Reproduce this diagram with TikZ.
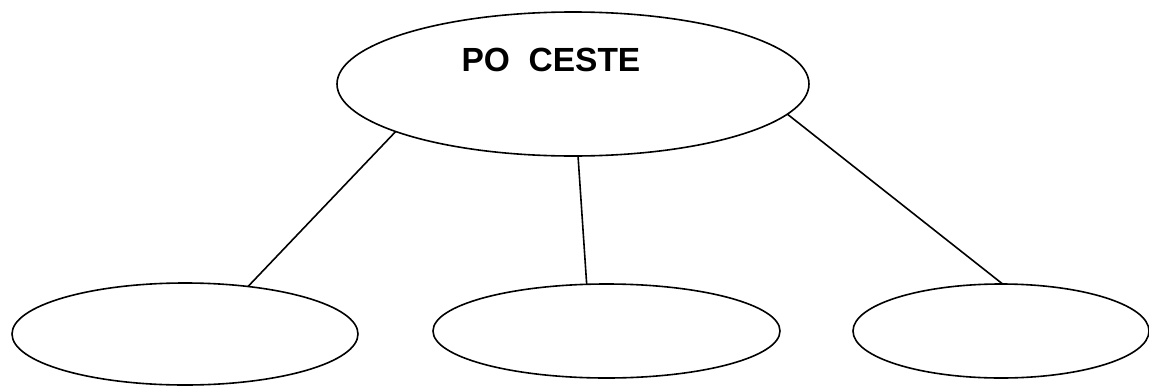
\documentclass[tikz,border=0pt]{standalone}
\usepackage{fontspec}
\setmainfont{Liberation Sans}
\usetikzlibrary{shapes.geometric}
\begin{document}
\begin{tikzpicture}[x=1pt,y=-1pt,
  oval/.style={draw, ellipse, line width=1.6pt, inner sep=0pt, outer sep=0pt},
  link/.style={line width=1.6pt}]
\useasboundingbox (0,0) rectangle (1149,386);
\node[oval, minimum width=472pt, minimum height=144pt] (top) at (573,84) {};
\node[font=\fontsize{33.5}{36}\selectfont\bfseries, inner sep=0pt] (title) at (551,60) {PO\ \ CESTE};
\node[oval, minimum width=346pt, minimum height=102pt] (left) at (185,334) {};
\node[oval, minimum width=347pt, minimum height=94pt] (mid) at (606.5,331) {};
\node[oval, minimum width=296pt, minimum height=94pt] (right) at (1001,331) {};
\draw[link] (top.195.6) -- (left.37.6);
\draw[link] (top.274) -- (mid.113.6);
\draw[link] (top.352.2) -- (right.88.8);
\end{tikzpicture}
\end{document}
